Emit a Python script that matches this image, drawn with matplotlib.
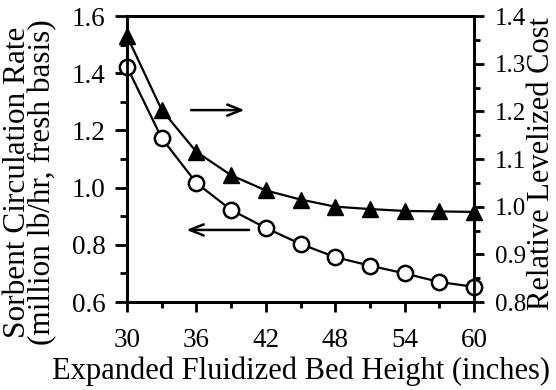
import matplotlib
matplotlib.use("Agg")
import matplotlib.pyplot as plt
from matplotlib.ticker import MultipleLocator

plt.rcParams['font.family'] = ['Liberation Serif', 'DejaVu Serif']

height = [30, 33, 36, 39, 42, 45, 48, 51, 54, 57, 60]
circulation = [1.422, 1.173, 1.016, 0.922, 0.859, 0.803, 0.757, 0.727, 0.700, 0.670, 0.653]
rel_cost = [1.358, 1.203, 1.115, 1.066, 1.034, 1.015, 1.000, 0.995, 0.991, 0.990, 0.989]

fig = plt.figure(figsize=(5.56, 3.90), dpi=100)
ax = fig.add_axes([127/556, 1 - 302/390, (474-127)/556, (302-16)/390])
ax2 = ax.twinx()

ax.plot(height, circulation, color='black', lw=1.6, marker='o', ms=11,
        mfc='white', mec='black', mew=1.8, clip_on=False, zorder=5)
ax2.plot(height, rel_cost, color='black', lw=1.6, marker='^', ms=11,
         mfc='black', mec='black', clip_on=False, zorder=5)

ax.set_xlim(30, 60)
ax.set_ylim(0.6, 1.6)
ax2.set_ylim(0.8, 1.4)

ax.xaxis.set_minor_locator(MultipleLocator(3))
ax.yaxis.set_minor_locator(MultipleLocator(0.1))
ax2.yaxis.set_minor_locator(MultipleLocator(0.05))

ax.set_xticks([30, 36, 42, 48, 54, 60])
ax.set_xticklabels(['30', '36', '42', '48', '54', '60'])
ax.set_yticks([0.6, 0.8, 1.0, 1.2, 1.4, 1.6])
ax.set_yticklabels(['0.6', '0.8', '1.0', '1.2', '1.4', '1.6'])
ax2.set_yticks([0.8, 0.9, 1.0, 1.1, 1.2, 1.3, 1.4])
ax2.set_yticklabels(['0.8', '0.9', '1.0', '1.1', '1.2', '1.3', '1.4'])

for a in (ax, ax2):
    for s in a.spines.values():
        s.set_linewidth(2)
ax.tick_params(axis='y', which='major', direction='out', length=8.5, width=2, labelsize=19.5, pad=7)
ax.tick_params(axis='y', which='minor', direction='out', length=5, width=2)
ax2.tick_params(axis='y', which='major', direction='out', length=7, width=2, labelsize=18, pad=8)
ax2.tick_params(axis='y', which='minor', direction='out', length=4, width=2)
ax.tick_params(axis='x', which='major', direction='out', length=7, width=2, labelsize=19.5, pad=12)
ax.tick_params(axis='x', which='minor', direction='out', length=4, width=2)

ax.set_xlabel('Expanded Fluidized Bed Height (inches)', fontsize=22, labelpad=2)
ax.set_ylabel('Sorbent Circulation Rate\n(million lb/hr, fresh basis)', fontsize=22.5,
              linespacing=0.8)
ax.yaxis.set_label_coords((57 - 127) / 347, (302 - 182) / 286)
ax2.set_ylabel('Relative Levelized Cost', fontsize=22)
ax2.yaxis.set_label_coords((527 - 127) / 347, (302 - 163) / 286)

ax.annotate('', xy=(40.4, 1.271), xytext=(35.3, 1.271),
            arrowprops=dict(arrowstyle='->,head_length=1.0,head_width=0.4', lw=1.8, color='black'))
ax.annotate('', xy=(34.9, 0.852), xytext=(40.8, 0.852),
            arrowprops=dict(arrowstyle='->,head_length=1.0,head_width=0.4', lw=1.8, color='black'))

fig.savefig('out.png', dpi=100)
